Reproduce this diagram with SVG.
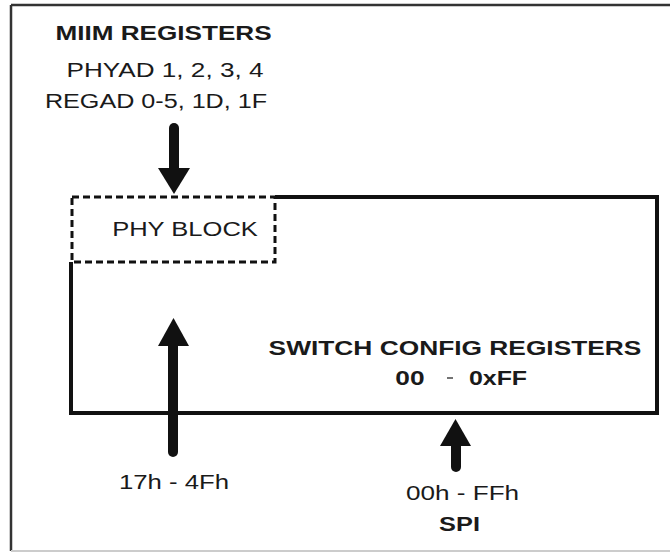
<svg xmlns="http://www.w3.org/2000/svg" width="670" height="552" viewBox="0 0 670 552">
<style>
.t{font-family:"Liberation Sans",Arial,sans-serif;font-size:19.5px;fill:#1a1a1a;text-anchor:middle}
.b{font-weight:bold}
.arr{stroke:#111;stroke-width:10;stroke-linecap:round;fill:none}
.head{fill:#111}
</style>
<rect width="670" height="552" fill="#fff"/>
<g id="frame">
<line x1="11" y1="5" x2="670" y2="5" stroke="#333" stroke-width="2.5"/>
<line x1="11" y1="5" x2="11" y2="551" stroke="#333" stroke-width="2.5"/>
<line x1="11" y1="551" x2="670" y2="551" stroke="#ccc" stroke-width="2"/>
</g>
<g id="miim">
<text class="t b" transform="translate(163.5,40) scale(1.34,1)">MIIM REGISTERS</text>
<text class="t" transform="translate(165,77) scale(1.34,1)">PHYAD 1, 2, 3, 4</text>
<text class="t" transform="translate(156,108) scale(1.29,1)">REGAD 0-5, 1D, 1F</text>
</g>
<g id="switch">
<path d="M275,197 H657 V413 H71 V262" fill="none" stroke="#111" stroke-width="4"/>
<text class="t b" transform="translate(455,355) scale(1.35,1)">SWITCH CONFIG REGISTERS</text>
<text class="t b" transform="translate(410,385) scale(1.35,1)">00</text>
<line x1="447" y1="378" x2="453" y2="378" stroke="#444" stroke-width="1.5"/>
<text class="t b" transform="translate(498,385) scale(1.28,1)">0xFF</text>
</g>
<g id="phy">
<rect x="72" y="197" width="203" height="65" fill="none" stroke="#111" stroke-width="3" stroke-dasharray="7,4"/>
<text class="t" transform="translate(185,236) scale(1.31,1)">PHY BLOCK</text>
</g>
<g id="labels">
<text class="t" transform="translate(174,489) scale(1.32,1)">17h - 4Fh</text>
<text class="t" transform="translate(462.5,500) scale(1.34,1)">00h - FFh</text>
<text class="t b" transform="translate(459.5,531) scale(1.3,1)">SPI</text>
</g>
<g id="connectors">
<line class="arr" x1="174" y1="128" x2="174" y2="172"/>
<polygon class="head" points="158,168 190,168 174,194"/>
<line class="arr" x1="173" y1="452" x2="173" y2="342"/>
<polygon class="head" points="158,346 189,346 173.5,318"/>
<line class="arr" x1="456" y1="467" x2="456" y2="442"/>
<polygon class="head" points="440,446 471,446 455.5,419"/>
</g>
</svg>
